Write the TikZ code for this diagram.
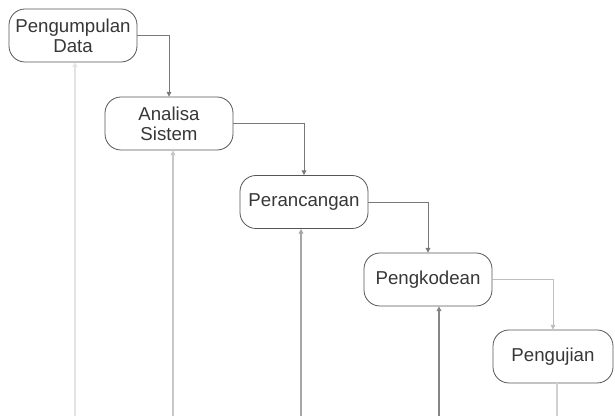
\documentclass[tikz,border=0pt]{standalone}
\usepackage{fontspec}
\setmainfont{Liberation Sans}
\usetikzlibrary{arrows.meta}
\definecolor{boxline}{RGB}{85,85,85}
\definecolor{boxtext}{RGB}{55,55,55}
\definecolor{fwdgray}{RGB}{120,120,120}
\definecolor{fwdlight}{RGB}{190,190,190}

\begin{document}
\begin{tikzpicture}[x=0.75pt,y=-0.75pt,
    box/.style={draw=boxline, line width=0.6pt, rounded corners=12pt,
      minimum width=96pt, minimum height=39.75pt, inner sep=0pt,
      align=center, text=boxtext, font=\fontsize{14}{15}\selectfont},
    fwd/.style={draw=#1, line width=0.7pt, -{Triangle[length=3.5pt,width=3.5pt]}},
    back/.style={draw=#1, line width=1pt, -{Triangle[length=3.5pt,width=3.5pt]}}]
    \useasboundingbox (0,0) rectangle (615,416);

    % Phases
    \node[box] (data) at (73,35.5) {Pengumpulan\\Data};
    \node[box] (analisa) at (169,123.5) {Analisa\\Sistem};
    \node[box] (rancang) at (304,202) {Perancangan};
    \node[box] (kode) at (428,279.5) {Pengkodean};
    \node[box, minimum width=90pt] (uji) at (553,356.5) {Pengujian};

    % Flow down the steps
    \draw[fwd=fwdgray] (data.east) -| (analisa.north);
    \draw[fwd=fwdgray] (analisa.east) -| (rancang.north);
    \draw[fwd=fwdgray] (rancang.east) -| (kode.north);
    \draw[fwd=fwdlight] (kode.east) -| (uji.north);

    % Lines back up from the bottom
    \coordinate (f1) at (75,416);
    \coordinate (f2) at (173,416);
    \coordinate (f3) at (301,416);
    \coordinate (f4) at (439,416);
    \coordinate (f5) at (557,416);
    \draw[back=black!11] (f1) -- (f1 |- data.south);
    \draw[back=black!22] (f2) -- (f2 |- analisa.south);
    \draw[back=black!35] (f3) -- (f3 |- rancang.south);
    \draw[back=black!48] (f4) -- (f4 |- kode.south);
    \draw[draw=black!18, line width=1pt] (uji.south -| f5) -- (f5);
\end{tikzpicture}
\end{document}
